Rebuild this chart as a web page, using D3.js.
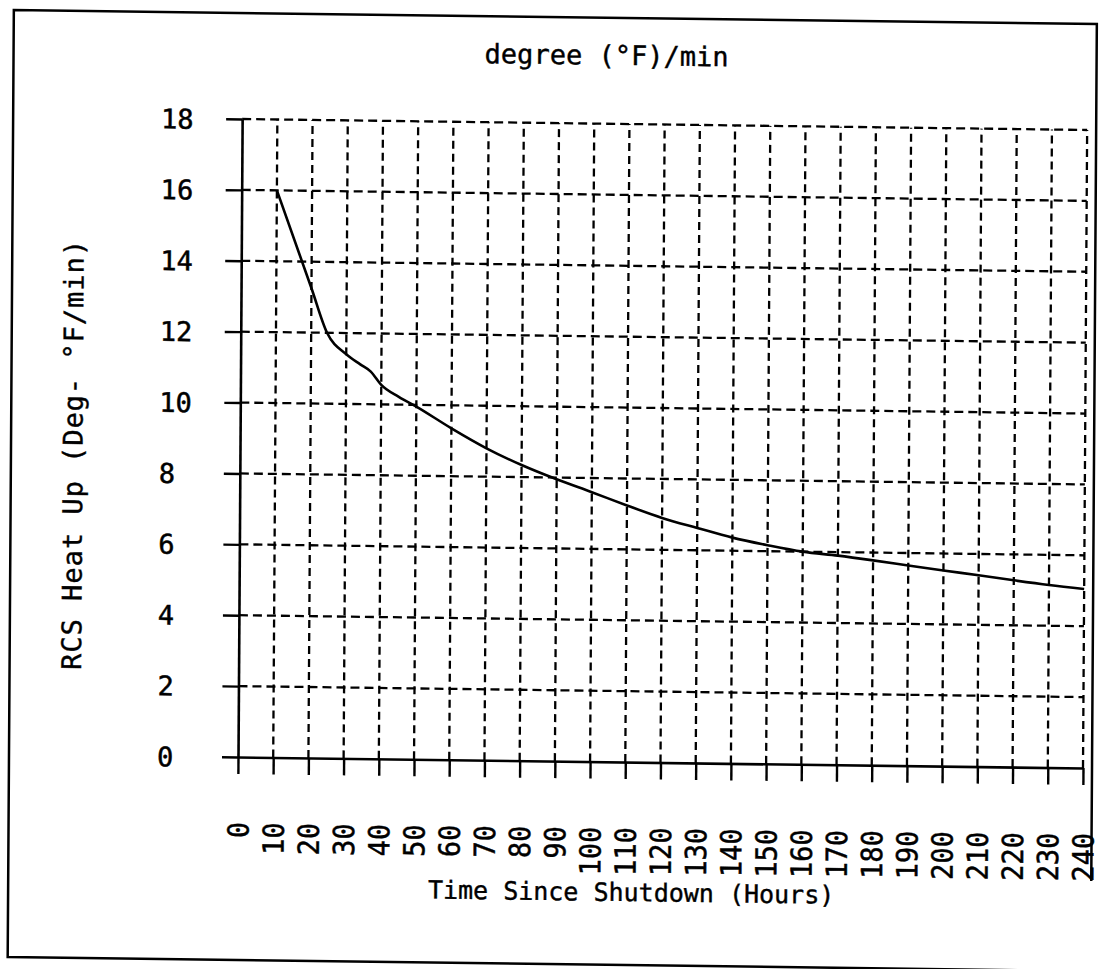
<!DOCTYPE html>
<html><head><meta charset="utf-8">
<script src="https://cdn.jsdelivr.net/npm/d3@7"></script>
<style>body{margin:0;background:#fff} svg{display:block}</style>
</head><body><svg id="c" width="1106" height="969"></svg>
<script>
// ---- data ----
const hours  = [10, 20, 24.5, 30, 34, 37, 40, 45, 50, 60, 70, 80, 90, 100, 110, 120, 130, 140, 150, 160, 170, 180, 190, 200, 210, 220, 230, 240];
const heatUp = [16, 13.25, 12, 11.4, 11.12, 10.92, 10.55, 10.22, 9.95, 9.35, 8.8, 8.34, 7.95, 7.6, 7.24, 6.9, 6.63, 6.37, 6.17, 6.0, 5.9, 5.78, 5.65, 5.52, 5.4, 5.27, 5.15, 5.05];
const xTickValues = [0,10,20,30,40,50,60,70,80,90,100,110,120,130,140,150,160,170,180,190,200,210,220,230,240];
const yTickValues = [0,2,4,6,8,10,12,14,16,18];
const titleText  = "degree (°F)/min";
const xAxisTitle = "Time Since Shutdown (Hours)";
const yAxisTitle = "RCS Heat Up (Deg- °F/min)";

const FONT = "'DejaVu Sans Mono', monospace";
const svg = d3.select("#c");
svg.append("rect").attr("width",1106).attr("height",969).attr("fill","#fff");

// scanned page is slightly skewed
const g = svg.append("g")
  .attr("transform","translate(238,757) matrix(1,0.013,-0.0065,1,0,0) translate(-238,-757)");

const x = d3.scaleLinear().domain([0,240]).range([238,1083]);
const y = d3.scaleLinear().domain([0,18]).range([757,119]);

// border (right side fades out near the bottom of the scan)
g.append("path")
  .attr("d","M1092,870 V13 H9 V960 H1092")
  .attr("fill","none").attr("stroke","#000").attr("stroke-width",2.5);

// grid
g.append("g").selectAll("line").data(yTickValues.filter(d=>d>0)).join("line")
  .attr("x1",x(0)).attr("x2",x(240)).attr("y1",d=>y(d)).attr("y2",d=>y(d))
  .attr("stroke","#000").attr("stroke-width",2.3).attr("stroke-dasharray","9,5");
g.append("g").selectAll("line").data(xTickValues.filter(d=>d>0)).join("line")
  .attr("x1",d=>x(d)).attr("x2",d=>x(d)).attr("y1",y(0)).attr("y2",y(18))
  .attr("stroke","#000").attr("stroke-width",2.3).attr("stroke-dasharray","8,5");

// y axis
const ya = g.append("g").attr("transform",`translate(${x(0)},0)`)
  .call(d3.axisLeft(y).tickValues(yTickValues).tickSize(16).tickSizeOuter(0).tickFormat(d3.format("d")));
ya.select(".domain").attr("stroke-width",2.6);
ya.selectAll(".tick line").attr("stroke-width",2.4);
ya.selectAll(".tick text")
  .attr("x",157-238).attr("text-anchor","start").attr("dy","0.36em")
  .attr("font-family",FONT).attr("font-size",27).attr("fill","#000")
  .attr("stroke","#000").attr("stroke-width",0.5);

// x axis
const sx = 0.93;
const xa = g.append("g").attr("transform",`translate(0,${y(0)})`)
  .call(d3.axisBottom(x).tickValues(xTickValues).tickSize(17).tickSizeOuter(0).tickFormat(d3.format("d")));
xa.select(".domain").attr("stroke-width",2.6);
xa.selectAll(".tick line").attr("stroke-width",2.4);
xa.selectAll(".tick text")
  .attr("transform",`rotate(-90) scale(${sx},1)`).attr("x",-65/sx).attr("y",0).attr("dy","0.36em")
  .attr("text-anchor","end")
  .attr("font-family",FONT).attr("font-size",29).attr("fill","#000")
  .attr("stroke","#000").attr("stroke-width",0.5);

// curve
const line = d3.line().x((d,i)=>x(hours[i])).y(d=>y(d)).curve(d3.curveMonotoneX);
g.append("path").datum(heatUp).attr("d",line)
  .attr("fill","none").attr("stroke","#000").attr("stroke-width",2.6);

// titles
g.append("text").attr("x",602).attr("y",60).attr("text-anchor","middle")
  .attr("font-family",FONT).attr("font-size",27)
  .attr("stroke","#000").attr("stroke-width",0.4).text(titleText);
g.append("text").attr("x",632).attr("y",896).attr("text-anchor","middle")
  .attr("font-family",FONT).attr("font-size",25)
  .attr("stroke","#000").attr("stroke-width",0.4).text(xAxisTitle);
g.append("text").attr("transform","translate(71,457) rotate(-90)").attr("dy","0.35em")
  .attr("text-anchor","middle")
  .attr("font-family",FONT).attr("font-size",27)
  .attr("stroke","#000").attr("stroke-width",0.4)
  .attr("textLength",430).attr("lengthAdjust","spacing").text(yAxisTitle);
</script>
</body></html>
